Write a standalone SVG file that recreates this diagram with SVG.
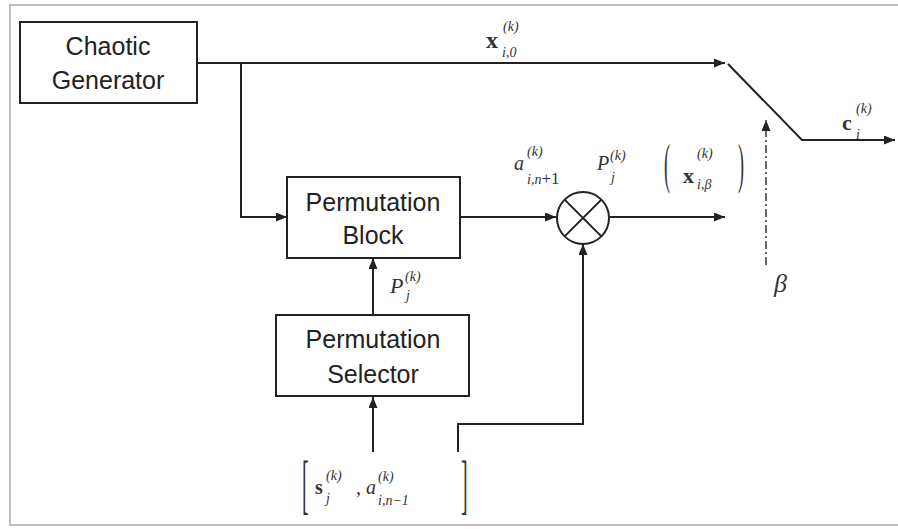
<svg xmlns="http://www.w3.org/2000/svg" width="898" height="529" viewBox="0 0 898 529">
<style>
.box{fill:#fff;stroke:#222;stroke-width:2}
.lbl{font-family:"Liberation Sans",Arial,sans-serif;font-size:25px;fill:#222;text-anchor:middle}
.ln{fill:none;stroke:#222;stroke-width:2}
.m{font-family:"Liberation Serif","Times New Roman",serif;fill:#333}
.it{font-style:italic}
.bd{font-weight:bold}
.s{font-size:14px;font-style:italic}
</style>
<defs>
<marker id="ah" markerUnits="userSpaceOnUse" markerWidth="12" markerHeight="10" refX="11" refY="4.5" orient="auto">
<path d="M0,0 L11,4.5 L0,9 z" fill="#222"/>
</marker>
</defs>
<rect x="10" y="5" width="900" height="520" fill="#fff" stroke="#aaa" stroke-width="1.5"/>

<g id="chaotic-generator">
<rect class="box" x="20" y="22" width="177" height="81"/>
<text class="lbl" x="108" y="55">Chaotic</text>
<text class="lbl" x="108" y="89">Generator</text>
</g>

<g id="permutation-block">
<rect class="box" x="287" y="177" width="173" height="81"/>
<text class="lbl" x="373" y="211">Permutation</text>
<text class="lbl" x="373" y="244">Block</text>
</g>

<g id="permutation-selector">
<rect class="box" x="276" y="315" width="193" height="81"/>
<text class="lbl" x="373" y="348">Permutation</text>
<text class="lbl" x="373" y="383">Selector</text>
</g>

<g id="multiplier">
<circle cx="583" cy="218" r="26" fill="#fff" stroke="#222" stroke-width="2"/>
<path class="ln" d="M564.6 199.6 L601.4 236.4 M601.4 199.6 L564.6 236.4"/>
</g>

<g id="connectors">
<path class="ln" d="M197 63 H725" marker-end="url(#ah)"/>
<path class="ln" d="M241 63 V217 H287" marker-end="url(#ah)"/>
<path class="ln" d="M460 217 H556" marker-end="url(#ah)"/>
<path class="ln" d="M610 217 H725" marker-end="url(#ah)"/>
<path class="ln" d="M458 452 V424 H583 V244" marker-end="url(#ah)"/>
<path class="ln" d="M373 315 V258" marker-end="url(#ah)"/>
<path class="ln" d="M373 452 V397" marker-end="url(#ah)"/>
<path class="ln" d="M728 64 L802 140 H895" marker-end="url(#ah)"/>
<path d="M766 265 V120" fill="none" stroke="#333" stroke-width="1.5" stroke-dasharray="8 3 2 3" marker-end="url(#ah)"/>
</g>

<g id="label-x-top" class="m">
<text class="bd" x="486" y="48" font-size="24">x</text>
<text class="s" x="503" y="31">(k)</text>
<text class="s" x="502" y="57">i,0</text>
</g>

<g id="label-product" class="m">
<text class="it" x="514" y="170" font-size="20">a</text>
<text class="s" x="527" y="156">(k)</text>
<text class="s" x="527" y="184">i,n<tspan font-size="17" font-style="normal">+1</tspan></text>
<text class="it" x="597" y="170" font-size="20">P</text>
<text class="s" x="610" y="160">(k)</text>
<text class="s" x="611" y="182">j</text>
<text transform="translate(664 182) scale(1 3.05)" font-size="18">(</text>
<text class="bd" x="683" y="183" font-size="22">x</text>
<text class="s" x="697" y="158">(k)</text>
<text class="s" x="697" y="189">i,β</text>
<text transform="translate(738 182) scale(1 3.05)" font-size="18">)</text>
</g>

<g id="label-p" class="m">
<text class="it" x="390" y="293" font-size="22">P</text>
<text class="s" x="405" y="281">(k)</text>
<text class="s" x="406" y="300">j</text>
</g>

<g id="label-input" class="m">
<text transform="translate(302 506) scale(1 3.3)" font-size="20">[</text>
<text class="bd" x="315" y="494" font-size="20">s</text>
<text class="s" x="326" y="480">(k)</text>
<text class="s" x="326" y="503">j</text>
<text x="356" y="494" font-size="20">,</text>
<text class="it" x="366" y="494" font-size="20">a</text>
<text class="s" x="378" y="481">(k)</text>
<text class="s" x="378" y="505">i,n−1</text>
<text transform="translate(461 506) scale(1 3.3)" font-size="20">]</text>
</g>

<g id="label-c" class="m">
<text class="bd" x="842" y="130" font-size="22">c</text>
<text class="s" x="856" y="113">(k)</text>
<text class="s" x="856" y="139">i</text>
</g>

<g id="label-beta" class="m">
<text class="it" x="774" y="292" font-size="26">β</text>
</g>
</svg>
